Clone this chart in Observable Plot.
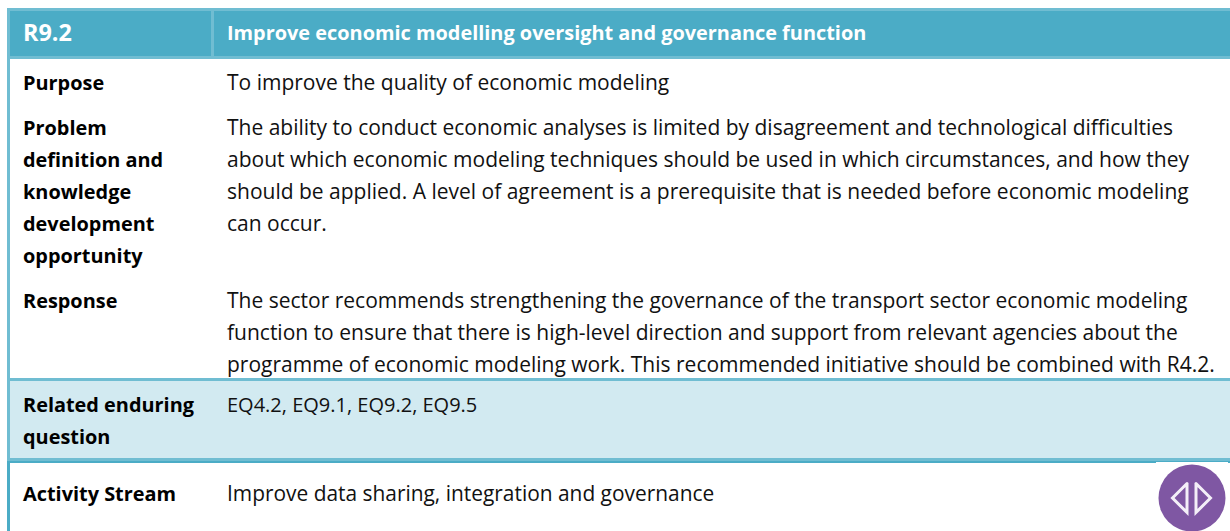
<!DOCTYPE html>
<html><head><meta charset="utf-8">
<script src="https://cdn.jsdelivr.net/npm/d3@7"></script>
<script src="https://cdn.jsdelivr.net/npm/@observablehq/plot@0.6"></script>
<style>html,body{margin:0;padding:0;background:#fff}svg{display:block}</style>
</head><body><div id="c"></div>
<script>
const headerCode = "R9.2";
const headerTitle = "Improve economic modelling oversight and governance function";
const rowLabels = [
  ["Purpose"],
  ["Problem","definition and","knowledge","development","opportunity"],
  ["Response"],
  ["Related enduring","question"],
  ["Activity Stream"]
];
const rowTexts = [
  ["To improve the quality of economic modeling"],
  ["The ability to conduct economic analyses is limited by disagreement and technological difficulties",
   "about which economic modeling techniques should be used in which circumstances, and how they",
   "should be applied. A level of agreement is a prerequisite that is needed before economic modeling",
   "can occur."],
  ["The sector recommends strengthening the governance of the transport sector economic modeling",
   "function to ensure that there is high-level direction and support from relevant agencies about the",
   "programme of economic modeling work. This recommended initiative should be combined with R4.2."],
  ["EQ4.2, EQ9.1, EQ9.2, EQ9.5"],
  ["Improve data sharing, integration and governance"]
];

// layout (page units mapped by the x and y scales)
const W = 1230, H = 531, lineStep = 32;
const rowFirstLine = [83, 128, 301, 405, 494];
const rowFontSize = [21, 21, 21, 20, 20.9];
const labelX = 22.5, textX = 226.5;
const font = "'Open Sans', sans-serif", fsBold = 19.9;
const teal = "#4bacc6", tealLight = "#70bdd2", band = "#d2eaf1", purple = "#7f57a3";

const flat = src => src.flatMap((lines, r) => lines.map((t, i) => ({t, r, y: rowFirstLine[r] + i * lineStep})));
const labels = flat(rowLabels), texts = flat(rowTexts);
const rects = [
  {x1:10,x2:W,y1:381,y2:458,f:band},
  {x1:10,x2:W,y1:11,y2:56,f:teal},
  {x1:7,x2:W,y1:8,y2:11,f:tealLight},
  {x1:7,x2:W,y1:56,y2:59,f:tealLight},
  {x1:211,x2:214,y1:11,y2:56,f:tealLight},
  {x1:7,x2:10,y1:11,y2:462,f:tealLight},
  {x1:7,x2:W,y1:378,y2:381,f:tealLight},
  {x1:7,x2:W,y1:458,y2:461,f:tealLight},
  {x1:7,x2:W,y1:461,y2:463,f:teal},
  {x1:7,x2:10,y1:461,y2:H,f:teal},
  {x1:1156,x2:1228,y1:462,y2:H,f:"#fff"}
];
const tri = (pts) => pts.map(([x,y]) => ({x,y}));
const triL = tri([[1186.5,483],[1186.5,512],[1172,497.5],[1186.5,483]]);
const triR = tri([[1195.5,483],[1195.5,512],[1210,497.5],[1195.5,483]]);

const textOpts = {y: "y", text: "t", textAnchor: "start", fontFamily: font, lineAnchor: "middle"};
const textMarks = rowFontSize.map((size, r) =>
  Plot.text(texts.filter(d => d.r === r), {...textOpts, x: textX, fontSize: size, fill: "#111"}));
document.getElementById("c").append(Plot.plot({
  width: W, height: H, margin: 0,
  style: {background: "#fff", fontFamily: font},
  x: {domain: [0, W], range: [0, W], axis: null},
  y: {domain: [0, H], range: [0, H], axis: null},
  marks: [
    Plot.rect(rects, {x1:"x1",x2:"x2",y1:"y1",y2:"y2",fill:"f"}),
    Plot.text([headerCode], {x: labelX, y: 33, text: d => d, textAnchor:"start", fontFamily: font, fontSize: 23.4, fontWeight: 700, fill:"#fff", lineAnchor:"middle"}),
    Plot.text([headerTitle], {x: textX, y: 33, text: d => d, textAnchor:"start", fontFamily: font, fontSize: fsBold, fontWeight: 700, fill:"#fff", lineAnchor:"middle"}),
    Plot.text(labels, {...textOpts, x: labelX, fontSize: fsBold, fontWeight: 700, fill:"#000"}),
    ...textMarks,
    Plot.dot([{x:1191.5,y:497.5}], {x:"x",y:"y",r:33.5,fill:purple}),
    Plot.line(triL, {x:"x",y:"y",stroke:"#f4eff8",strokeWidth:3,strokeLinejoin:"miter",strokeMiterlimit:8}),
    Plot.line(triR, {x:"x",y:"y",stroke:"#f4eff8",strokeWidth:3,strokeLinejoin:"miter",strokeMiterlimit:8})
  ]
}));
</script></body></html>
